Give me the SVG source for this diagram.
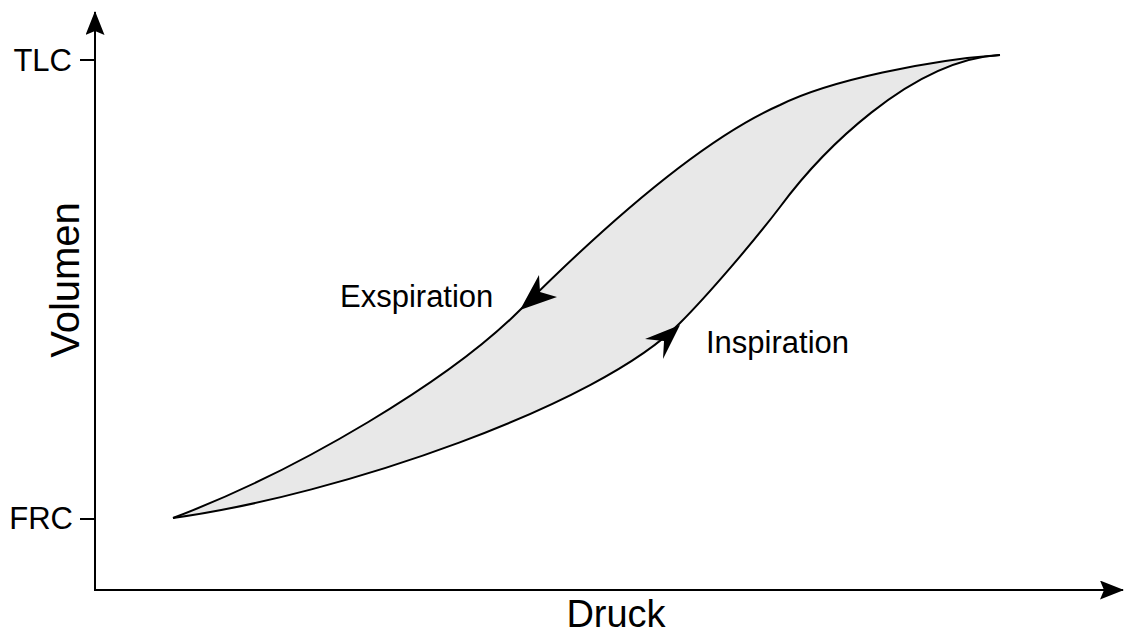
<svg xmlns="http://www.w3.org/2000/svg" width="1125" height="634" viewBox="0 0 1125 634">
<style>
.ax{stroke:#000;stroke-width:2;fill:none}
.cv{stroke:#000;stroke-width:2;fill:none}
.t{font-family:"Liberation Sans",Arial,sans-serif;fill:#000}
</style>
<defs>
<marker id="ah" viewBox="0 0 24 19" refX="23" refY="9.5" markerWidth="24" markerHeight="19" markerUnits="userSpaceOnUse" orient="auto">
<path d="M0,0 L24,9.5 L0,19 L4,9.5 Z" fill="#000"/>
</marker>
</defs>
<rect width="1125" height="634" fill="#fff"/>
<g id="fill">
<path d="M173,518 C300,470 450,380 520,310 C600,230 700,140 780,105 C830,80 930,60 1000,55 C910,60 820,153 780,207 C755,240 708,295 680,323 C600,405 340,495 173,518 Z" fill="#e8e8e8" stroke="none"/>
</g>
<g id="axes">
<line class="ax" x1="95" y1="591" x2="95" y2="12" marker-end="url(#ah)"/>
<line class="ax" x1="94" y1="590" x2="1123" y2="590" marker-end="url(#ah)"/>
<line class="ax" x1="80" y1="60" x2="95" y2="60"/>
<line class="ax" x1="80" y1="519" x2="95" y2="519"/>
</g>
<g id="connectors">
<path id="expiration" class="cv" d="M173,518 C300,470 450,380 520,310 C600,230 700,140 780,105 C830,80 930,60 1000,55"/>
<path id="inspiration" class="cv" d="M173,518 C340,495 600,405 680,323 C708,295 755,240 780,207 C820,153 910,60 1000,55"/>
<path d="M520,310 L539,275 L540,292 L557,297 Z" fill="#000"/>
<path d="M680,325 L645,339 L664,341 L663,359 Z" fill="#000"/>
</g>
<g id="labels">
<text class="t" x="72" y="71" font-size="31" text-anchor="end">TLC</text>
<text class="t" x="73" y="529" font-size="31" text-anchor="end">FRC</text>
<text class="t" x="340" y="307" font-size="31">Exspiration</text>
<text class="t" x="706" y="353" font-size="31">Inspiration</text>
<text class="t" x="616" y="627" font-size="38" text-anchor="middle">Druck</text>
<text class="t" transform="translate(79,280) rotate(-90)" font-size="40" text-anchor="middle">Volumen</text>
</g>
</svg>
